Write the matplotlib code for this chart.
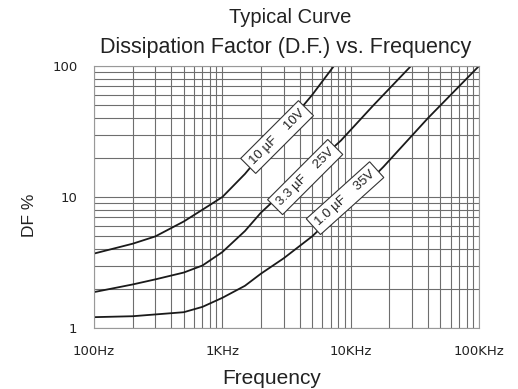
import numpy as np
import matplotlib
matplotlib.use("Agg")
import matplotlib.pyplot as plt

plt.rcParams['font.family'] = ['Liberation Sans', 'DejaVu Sans']

# frequency (Hz) and dissipation factor (%)
f_10uf = [100, 200, 300, 500, 700, 1000, 1500, 2000, 3000, 5000, 7400]
df_10uf = [3.7, 4.4, 5.0, 6.5, 8.0, 10, 15, 21, 33, 60, 100]

f_33uf = [100, 200, 300, 500, 700, 1000, 1500, 2000, 3000, 5000, 8400, 15000, 29500]
df_33uf = [1.88, 2.15, 2.35, 2.65, 3.0, 3.8, 5.5, 7.6, 11, 17, 27, 50, 100]

f_1uf = [100, 200, 500, 700, 1000, 1500, 2000, 3000, 5000, 10000, 18000, 40000, 100000]
df_1uf = [1.21, 1.23, 1.32, 1.45, 1.7, 2.1, 2.6, 3.4, 5.0, 9.5, 17, 40, 100]

labels = ["10 µF    10V", "3.3 µF    25V", "1.0 µF    35V"]
label_pos = [(2670, 28.7), (4420, 14.2), (9040, 9.8)]
label_rot = [45, 45, 42]

x_ticks = [100, 1000, 10000, 100000]
x_ticklabels = ["100Hz", "1KHz", "10KHz", "100KHz"]
y_ticks = [1, 10, 100]
y_ticklabels = ["1", "10", "100"]

fig = plt.figure(figsize=(5.18, 3.89), dpi=100)
ax = fig.add_axes([0.1815, 0.1568, 0.7432, 0.6735])

ax.set_xscale('log')
ax.set_yscale('log')
ax.set_xlim(100, 100000)
ax.set_ylim(1, 100)

ax.grid(True, which='both', color='#6e6e6e', lw=0.8)
ax.set_axisbelow(True)

for f, d in [(f_10uf, df_10uf), (f_33uf, df_33uf), (f_1uf, df_1uf)]:
    ax.plot(f, d, color='#1a1a1a', lw=1.3)

for txt, (x, y), r in zip(labels, label_pos, label_rot):
    ax.text(x, y, txt, rotation=r, ha='center', va='center', fontsize=9.5,
            rotation_mode='anchor', color='#222222',
            bbox=dict(boxstyle='square,pad=0.35', fc='white', ec='#333333', lw=0.8))

ax.set_xticks(x_ticks)
ax.set_xticklabels(x_ticklabels, fontsize=9.5, family='DejaVu Sans', color='#222222')
ax.set_yticks(y_ticks)
ax.set_yticklabels(y_ticklabels, fontsize=9.5, family='DejaVu Sans', color='#222222')
ax.tick_params(which='both', length=0)
ax.tick_params(axis='x', pad=12)
ax.tick_params(axis='y', pad=12)
for s in ax.spines.values():
    s.set_color('#999999')

ax.set_xlabel("Frequency", fontsize=15, color='#222222')
ax.xaxis.set_label_coords(0.462, -0.155)
ax.set_ylabel("DF %", fontsize=12.5, color='#222222')
ax.yaxis.set_label_coords(-0.148, 0.43)

fig.text(0.56, 0.954, "Typical Curve", ha='center', va='center', fontsize=14.5, color='#222222')
fig.text(0.551, 0.878, "Dissipation Factor (D.F.) vs. Frequency", ha='center', va='center',
         fontsize=15.5, color='#222222')

fig.savefig("out.png", dpi=100)
